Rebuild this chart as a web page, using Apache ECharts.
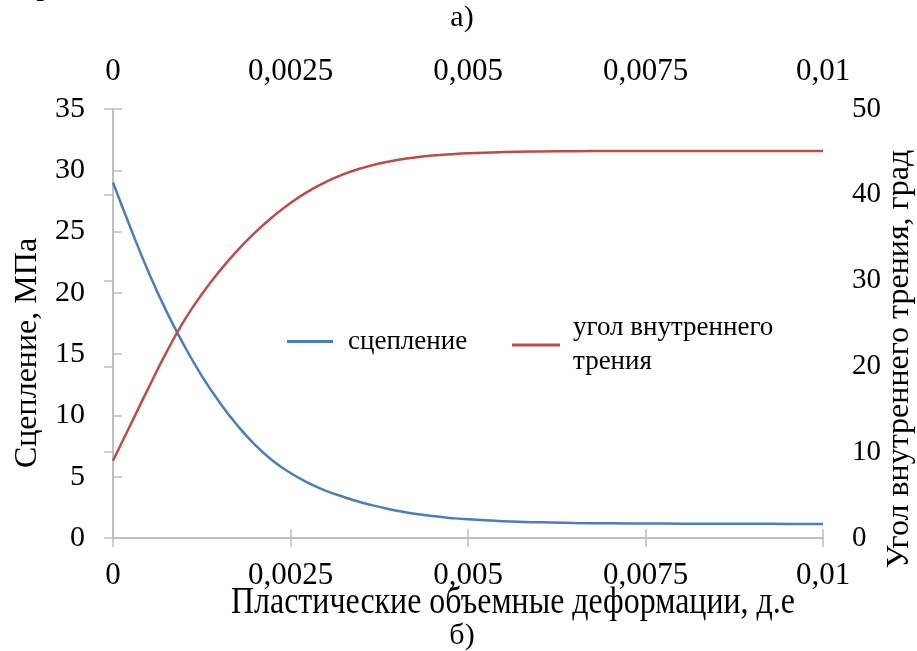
<!DOCTYPE html>
<html>
<head>
<meta charset="utf-8">
<script src="https://cdn.jsdelivr.net/npm/echarts@6/dist/echarts.min.js"></script>
<style>
html,body{margin:0;padding:0;background:#fff;}
#chart{width:917px;height:651px;}
</style>
</head>
<body>
<div id="chart"></div>
<script>
// ---- data ----
var strainValues = [0, 0.00025, 0.0005, 0.00075, 0.001, 0.00125, 0.0015, 0.00175, 0.002, 0.00225, 0.0025, 0.00275, 0.003, 0.00325, 0.0035, 0.00375, 0.004, 0.00425, 0.0045, 0.00475, 0.005, 0.0055, 0.006, 0.0065, 0.007, 0.0075, 0.008, 0.0085, 0.009, 0.0095, 0.01];
var cohesionMPa = [29.0, 25.25, 21.7, 18.53, 15.73, 13.23, 11.08, 9.2, 7.6, 6.3, 5.3, 4.5, 3.85, 3.35, 2.9, 2.54, 2.22, 1.98, 1.79, 1.64, 1.52, 1.37, 1.28, 1.23, 1.2, 1.18, 1.17, 1.16, 1.16, 1.15, 1.15];
var frictionAngleDeg = [9.0, 13.25, 17.5, 21.6, 25.3, 28.4, 31.1, 33.5, 35.6, 37.45, 39.05, 40.4, 41.5, 42.4, 43.1, 43.65, 44.05, 44.35, 44.57, 44.73, 44.85, 44.98, 45.05, 45.08, 45.1, 45.1, 45.1, 45.1, 45.1, 45.1, 45.1];
var xTickValues = [0, 0.0025, 0.005, 0.0075, 0.01];
var xTickLabels = ['0', '0,0025', '0,005', '0,0075', '0,01'];
var seriesNames = ['сцепление', 'угол внутреннего\nтрения'];
var leftAxisTitle = 'Сцепление, МПа';
var rightAxisTitle = 'Угол внутреннего трения, град';
var bottomAxisTitle = 'Пластические объемные деформации, д.е';

function pairs(xs, ys){ return xs.map(function(x,i){ return [x, ys[i]]; }); }
function xLabel(v){
  for (var i=0;i<xTickValues.length;i++){ if (Math.abs(v-xTickValues[i])<1e-9) return xTickLabels[i]; }
  return '';
}

var FONT = '"Liberation Serif", "Times New Roman", serif';
var axisGray = '#BFBFBF';
var blue = '#4A7EBB';
var red = '#BE4B48';

var chart = echarts.init(document.getElementById('chart'), null, {renderer:'canvas'});

var commonX = {
  type: 'value', min: 0, max: 0.01, interval: 0.0025,
  axisLine: {show: true, lineStyle: {color: axisGray, width: 2}},
  axisTick: {show: true, inside: true, length: 9, lineStyle: {color: axisGray, width: 1.5}},
  splitLine: {show: false},
  axisLabel: {formatter: xLabel, color: '#000', fontFamily: FONT, fontSize: 31, margin: 22}
};

chart.setOption({
  animation: false,
  backgroundColor: '#fff',
  grid: {left: 113, right: 94, top: 109, bottom: 113, containLabel: false},
  xAxis: [
    Object.assign({}, commonX, {position: 'bottom'}),
    Object.assign({}, commonX, {position: 'top'})
  ],
  yAxis: [
    {
      type: 'value', min: 0, max: 35, interval: 5, position: 'left',
      axisLine: {show: true, lineStyle: {color: axisGray, width: 2}},
      axisTick: {show: true, inside: true, length: 9, lineStyle: {color: axisGray, width: 1.5}},
      splitLine: {show: false},
      axisLabel: {color: '#000', fontFamily: FONT, fontSize: 30, margin: 28}
    },
    {
      type: 'value', min: 0, max: 50, interval: 10, position: 'right',
      axisLine: {show: true, lineStyle: {color: axisGray, width: 2}},
      axisTick: {show: true, inside: true, length: 9, lineStyle: {color: axisGray, width: 1.5}},
      splitLine: {show: false},
      axisLabel: {color: '#000', fontFamily: FONT, fontSize: 29, margin: 29}
    }
  ],
  legend: [
    {
      data: [seriesNames[0]], left: 282, top: 323, z: 200,
      icon: 'rect', itemWidth: 46, itemHeight: 3, itemGap: 0,
      textStyle: {color: '#000', fontFamily: FONT, fontSize: 27, padding: [0,0,0,10]},
      selectedMode: false
    },
    {
      data: [seriesNames[1]], left: 507, top: 306, z: 200,
      icon: 'rect', itemWidth: 48, itemHeight: 3, itemGap: 0,
      textStyle: {color: '#000', fontFamily: FONT, fontSize: 27, lineHeight: 34, padding: [0,0,0,8]},
      selectedMode: false
    }
  ],
  graphic: [
    {type: 'rect', z: 100, shape: {x: 272, y: 300, width: 556, height: 128}, style: {fill: '#fff'}, silent: true},
    {type: 'text', style: {text: 'а)', x: 462, y: 18, fill: '#000', font: '30px ' + FONT, textAlign: 'center', textVerticalAlign: 'middle'}},
    {type: 'text', style: {text: 'град', x: 23, y: -14, fill: '#000', font: '32px ' + FONT, textAlign: 'left', textVerticalAlign: 'middle'}},
    {type: 'text', style: {text: 'б)', x: 462, y: 636, fill: '#000', font: '30px ' + FONT, textAlign: 'center', textVerticalAlign: 'middle'}},
    {type: 'text', x: 513, y: 603, scaleX: 0.84, style: {text: bottomAxisTitle, x: 0, y: 0, fill: '#000', font: '38px ' + FONT, textAlign: 'center', textVerticalAlign: 'middle'}},
    {type: 'text', x: 28, y: 353, rotation: Math.PI/2, style: {text: leftAxisTitle, x: 0, y: 0, fill: '#000', font: '32px ' + FONT, textAlign: 'center', textVerticalAlign: 'middle'}},
    {type: 'text', x: 900, y: 359, rotation: Math.PI/2, style: {text: rightAxisTitle, x: 0, y: 0, fill: '#000', font: '32px ' + FONT, textAlign: 'center', textVerticalAlign: 'middle'}}
  ],
  series: [
    {
      name: seriesNames[0], type: 'line', xAxisIndex: 0, yAxisIndex: 0,
      data: pairs(strainValues, cohesionMPa), smooth: 0.5, showSymbol: false, symbol: 'none',
      lineStyle: {color: blue, width: 2.5}, itemStyle: {color: blue}, z: 5
    },
    {
      name: seriesNames[1], type: 'line', xAxisIndex: 0, yAxisIndex: 1,
      data: pairs(strainValues, frictionAngleDeg), smooth: 0.5, showSymbol: false, symbol: 'none',
      lineStyle: {color: red, width: 2.5}, itemStyle: {color: red}, z: 5
    }
  ]
});
</script>
</body>
</html>
